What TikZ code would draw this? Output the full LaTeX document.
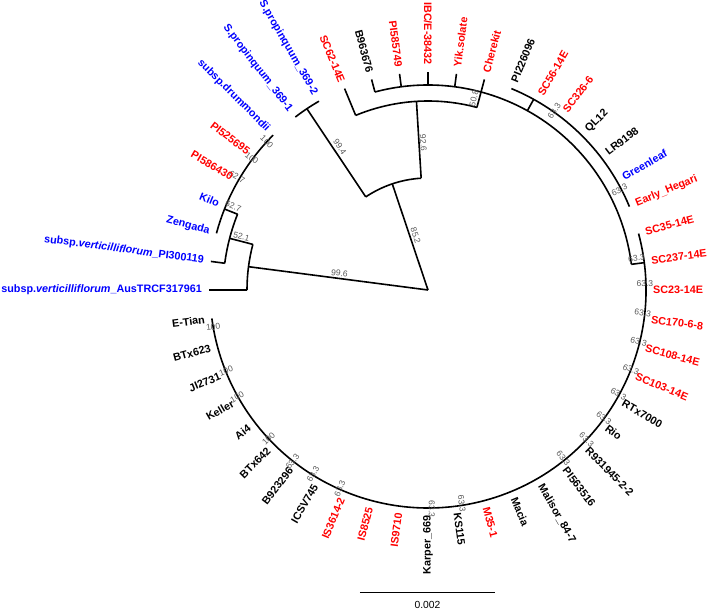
\documentclass[tikz,border=0pt]{standalone}
\usepackage{fontspec}
\setmainfont{Liberation Sans}
\usetikzlibrary{positioning}
\definecolor{taxred}{RGB}{255,0,0}
\definecolor{taxblue}{RGB}{0,0,255}

\begin{document}
\begin{tikzpicture}[
    x=1pt, y=1pt,
    branch/.style={draw=black, line width=1.6pt},
    taxon/.style={font=\bfseries\fontsize{10.8}{12}\selectfont, inner sep=0pt},
    rlabel/.style={taxon, anchor=west},
    llabel/.style={taxon, anchor=east},
    boot/.style={font=\fontsize{8.5}{9}\selectfont, text=black!65, inner sep=0pt},
    scalebar/.style={draw=black, line width=0.9pt}
]
\useasboundingbox (-428,-320) rectangle (281,290);

% ====================
%      Backbone
% ====================

\coordinate (root) at (0,0);
\coordinate (n_cult) at (108.6:112);
\coordinate (n_wild) at (172.6:181);

\draw[branch] (root) -- (n_cult);
\draw[branch] (root) -- (n_wild);

\node[boot, rotate=-71.7] (bs_cult) at (102.8:55.7) {85.2};
\node[boot, rotate=-7.4] (bs_wild) at (169.3:90) {99.6};

% ====================
%    Upper clades
% ====================

% 85.2 arc
\coordinate (n_cult_l) at (123.75:112);
\coordinate (n_cult_r) at (93.5:112);
\draw[branch] (n_cult_l) arc[start angle=123.75, end angle=93.5, radius=112];

% S.propinquum pair
\coordinate (n_prop) at (123.75:218);
\coordinate (prop1_tip) at (127.5:218);
\draw[branch] (n_cult_l) -- (n_prop);
\draw[branch] (prop1_tip) arc[start angle=127.5, end angle=120, radius=218];
\node[boot, rotate=-56.5] (bs_prop) at (121.6:168) {99.4};

% 92.6 node
\coordinate (n_top) at (93.5:189);
\coordinate (n_top_l) at (112.5:189);
\coordinate (n_top_r) at (75:189);
\coordinate (sc62_tip) at (112.5:218);
\draw[branch] (n_cult_r) -- (n_top);
\draw[branch] (n_top_l) arc[start angle=112.5, end angle=75, radius=189];
\draw[branch] (n_top_l) -- (sc62_tip);
\node[boot, rotate=-86.5] (bs_top) at (91.8:147) {92.6};

% 50.8 node
\coordinate (n_sub) at (75:205);
\coordinate (n_sub_l) at (105:205);
\draw[branch] (n_top_r) -- (n_sub);
\draw[branch] (n_sub_l) arc[start angle=105, end angle=7.2, radius=205];
\node[boot, rotate=76] (bs_sub) at (76.5:197) {50.8};

\coordinate (b963676_tip) at (105:218);
\coordinate (pi585749_base) at (97.5:205);
\coordinate (pi585749_tip) at (97.5:218);
\coordinate (ibc_base) at (90:205);
\coordinate (ibc_tip) at (90:218);
\coordinate (yik_base) at (82.5:205);
\coordinate (yik_tip) at (82.5:218);
\coordinate (cherekit_tip) at (75:218);
\draw[branch] (n_sub_l) -- (b963676_tip);
\draw[branch] (pi585749_base) -- (pi585749_tip);
\draw[branch] (ibc_base) -- (ibc_tip);
\draw[branch] (yik_base) -- (yik_tip);
\draw[branch] (n_sub) -- (cherekit_tip);

% PI226096 .. Early_Hegari
\coordinate (n_hegari) at (61:205);
\coordinate (n_hegari_o) at (61:218);
\coordinate (pi226096_tip) at (67.5:218);
\draw[branch] (n_hegari) -- (n_hegari_o);
\draw[branch] (pi226096_tip) arc[start angle=67.5, end angle=22.5, radius=218];

% SC35-14E .. E-Tian
\coordinate (n_big) at (7.2:205);
\coordinate (n_big_o) at (7.2:218);
\coordinate (sc35_tip) at (15:218);
\draw[branch] (n_big) -- (n_big_o);
\draw[branch] (sc35_tip) arc[start angle=15, end angle=-172.5, radius=218];

% ====================
%     Wild clade
% ====================

\coordinate (n_wild_l) at (180:181);
\coordinate (aus_tip) at (180:219);
\coordinate (n_w2_base) at (165.4:181);
\coordinate (n_w2) at (165.4:205);
\coordinate (n_w2_l) at (172.5:205);
\coordinate (pi300119_tip) at (172.5:219);
\coordinate (n_w3_base) at (158.3:205);
\coordinate (n_w3) at (158.3:219);
\coordinate (zengada_tip) at (165:219);

\draw[branch] (n_wild_l) arc[start angle=180, end angle=165.4, radius=181];
\draw[branch] (n_wild_l) -- (aus_tip);
\draw[branch] (n_w2_base) -- (n_w2);
\draw[branch] (n_w2_l) arc[start angle=172.5, end angle=158.3, radius=205];
\draw[branch] (n_w2_l) -- (pi300119_tip);
\draw[branch] (n_w3_base) -- (n_w3);
\draw[branch] (zengada_tip) arc[start angle=165, end angle=135, radius=219];

\node[boot, rotate=-14] (bs_w2) at (164:194) {52.1};
\node[boot, rotate=-22] (bs_w3) at (156.7:212) {62.7};
\node[boot, rotate=-30] (bs_pi586430) at (149.4:222) {62.7};
\node[boot, rotate=-37] (bs_pi525695) at (143.2:220) {100};
\node[boot, rotate=-45] (bs_drummondii) at (137.4:219) {100};

% ====================
%    Support values
% ====================

\node[boot, rotate=55] (bs_sc326) at (54.8:219) {63.3};
\node[boot, rotate=27] (bs_hegari) at (27.6:216) {63.3};
\node[boot, rotate=7.5] (bs_sc237) at (8.7:211) {63.3};
\node[boot, rotate=0] (bs_sc23) at (1.6:217) {63.3};
\node[boot, rotate=-7.5] (bs_sc170) at (-6.1:216) {63.3};
\node[boot, rotate=-15] (bs_sc108) at (-13.8:217) {63.3};
\node[boot, rotate=-22.5] (bs_sc103) at (-21.4:218) {63.3};
\node[boot, rotate=-30] (bs_rtx7000) at (-28.6:217) {63.3};
\node[boot, rotate=-37.5] (bs_rio) at (-36:217.5) {63.3};
\node[boot, rotate=-45] (bs_r931945) at (-43.3:218) {63.3};
\node[boot, rotate=-52.5] (bs_pi563516) at (-51.2:216) {63.3};
\node[boot, rotate=-82.5] (bs_ks115) at (-81:216) {63.3};
\node[boot, rotate=-90] (bs_karper) at (-89:219) {63.3};
\node[boot, rotate=67.5] (bs_is3614) at (246:217) {63.3};
\node[boot, rotate=60] (bs_icsv745) at (238:217) {63.3};
\node[boot, rotate=52.5] (bs_b923296) at (231.7:218.5) {63.3};
\node[boot, rotate=45] (bs_btx642) at (223:218) {100};
\node[boot, rotate=30] (bs_keller) at (209.3:219) {100};
\node[boot, rotate=22.5] (bs_ji2731) at (201.8:217.5) {100};
\node[boot, rotate=7.5] (bs_etian) at (189.8:218) {100};

% ====================
%       Taxa
% ====================

% Right half
\node[rlabel, rotate=82.5, taxred] (yik) at (82.5:225) {Yik.solate};
\node[rlabel, rotate=75, taxred] (cherekit) at (75:225) {Cherekit};
\node[rlabel, rotate=67.5] (pi226096) at (67.5:225) {PI226096};
\node[rlabel, rotate=60, taxred] (sc56) at (60:225) {SC56-14E};
\node[rlabel, rotate=52.5, taxred] (sc326) at (52.5:225) {SC326-6};
\node[rlabel, rotate=45] (ql12) at (45:225) {QL12};
\node[rlabel, rotate=37.5] (lr9198) at (37.5:225) {LR9198};
\node[rlabel, rotate=30, taxblue] (greenleaf) at (30:225) {Greenleaf};
\node[rlabel, rotate=22.5, taxred] (early_hegari) at (22.5:225) {Early\_Hegari};
\node[rlabel, rotate=15, taxred] (sc35) at (15:225) {SC35-14E};
\node[rlabel, rotate=7.5, taxred] (sc237) at (7.5:225) {SC237-14E};
\node[rlabel, rotate=0, taxred] (sc23) at (0:225) {SC23-14E};
\node[rlabel, rotate=-7.5, taxred] (sc170) at (-7.5:225) {SC170-6-8};
\node[rlabel, rotate=-15, taxred] (sc108) at (-15:225) {SC108-14E};
\node[rlabel, rotate=-22.5, taxred] (sc103) at (-22.5:225) {SC103-14E};
\node[rlabel, rotate=-30] (rtx7000) at (-30:225) {RTx7000};
\node[rlabel, rotate=-37.5] (rio) at (-37.5:225) {Rio};
\node[rlabel, rotate=-45] (r931945) at (-45:225) {R931945-2-2};
\node[rlabel, rotate=-52.5] (pi563516) at (-52.5:225) {PI563516};
\node[rlabel, rotate=-60] (malisor) at (-60:225) {Malisor\_84-7};
\node[rlabel, rotate=-67.5] (macia) at (-67.5:225) {Macia};
\node[rlabel, rotate=-75, taxred] (m35) at (-75:225) {M35-1};
\node[rlabel, rotate=-82.5] (ks115) at (-82.5:225) {KS115};

% Left half
\node[llabel, rotate=90] (karper) at (-90:225) {Karper\_669};
\node[llabel, rotate=82.5, taxred] (is9710) at (-97.5:225) {IS9710};
\node[llabel, rotate=75, taxred] (is8525) at (-105:225) {IS8525};
\node[llabel, rotate=67.5, taxred] (is3614) at (-112.5:225) {IS3614-2};
\node[llabel, rotate=60] (icsv745) at (-120:225) {ICSV745};
\node[llabel, rotate=52.5] (b923296) at (-127.5:225) {B923296};
\node[llabel, rotate=45] (btx642) at (-135:225) {BTx642};
\node[llabel, rotate=37.5] (ai4) at (-142.5:225) {Ai4};
\node[llabel, rotate=30] (keller) at (-150:225) {Keller};
\node[llabel, rotate=22.5] (ji2731) at (-157.5:225) {JI2731};
\node[llabel, rotate=15] (btx623) at (-165:225) {BTx623};
\node[llabel, rotate=7.5] (etian) at (-172.5:225) {E-Tian};
\node[llabel, rotate=0, taxblue] (aus) at (180:226) {subsp.\textit{verticilliflorum}\_AusTRCF317961};
\node[llabel, rotate=-7.5, taxblue] (pi300119) at (172.5:226) {subsp.\textit{verticilliflorum}\_PI300119};
\node[llabel, rotate=-15, taxblue] (zengada) at (165:226) {Zengada};
\node[llabel, rotate=-22.5, taxblue] (kilo) at (157.5:226) {Kilo};
\node[llabel, rotate=-30, taxred] (pi586430) at (150:226) {PI586430};
\node[llabel, rotate=-37.5, taxred] (pi525695) at (142.5:226) {PI525695};
\node[llabel, rotate=-45, taxblue] (drummondii) at (135:226) {subsp.drummondii};
\node[llabel, rotate=-52.5, taxblue] (prop1) at (127.5:226) {S.propinquum\_369-1};
\node[llabel, rotate=-60, taxblue] (prop2) at (120:226) {S.propinquum\_369-2};
\node[llabel, rotate=-67.5, taxred] (sc62) at (112.5:225) {SC62-14E};
\node[llabel, rotate=-75] (b963676) at (105:225) {B963676};
\node[llabel, rotate=-82.5, taxred] (pi585749) at (97.5:225) {PI585749};
\node[llabel, rotate=-90, taxred] (ibc) at (90:225) {IBC/E-38432};

% ====================
%      Scale bar
% ====================

\coordinate (bar_l) at (-68,-302.3);
\coordinate (bar_r) at (67,-302.3);
\coordinate (bar_mid) at (-0.5,-302.3);
\draw[scalebar] (bar_l) -- (bar_r);
\node[below=8.5pt of bar_mid, inner sep=0pt, font=\fontsize{10.3}{12}\selectfont] (bar_label) {0.002};

\end{tikzpicture}
\end{document}
